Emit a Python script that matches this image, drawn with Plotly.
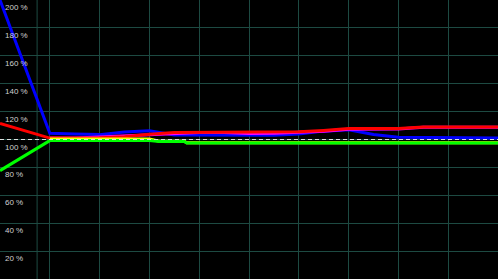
import plotly.graph_objects as go

# ---- data (x in grid units, values in %) ----
x_main = [0, 1, 1.5, 2, 2.5, 3, 3.5, 4, 4.5, 5, 5.5, 6, 6.5, 7, 7.5, 8, 8.5, 9, 9.5, 10]
blue = [200, 104.5, 104, 103.5, 105.3, 106.3, 103.2, 103.2, 103.2, 103, 103, 104, 106, 107, 103.6, 101.7, 101.4, 101.4, 101, 101]
red = [111.5, 101, 101, 101.2, 102, 103.8, 105, 105.2, 105.2, 105.3, 105.3, 105.5, 106.5, 107.8, 107.8, 107.8, 109, 109, 109, 109]
magenta = [None, 101, 101, 101.8, 102.5, 103.2, 104, 105, 105, 104.3, 104.4, 105, 106, 107.3, 107.6, 107.6, 108.8, 108.8, 108.8, 108.8]
x_green = [0, 1, 2, 3, 3.2, 3.7, 3.75, 4, 5, 6, 7, 8, 9, 10]
green = [77.7, 99.2, 99.2, 99.2, 98.6, 98.6, 97.5, 97.5, 97.5, 97.5, 97.5, 97.5, 97.5, 97.5]
x_yellow = [1, 2, 3, 3.2, 3.7, 3.75, 10]
yellow = [100.4, 100.4, 100.4, 98.8, 98.7, 97.6, 97.6]
ref_x = [0, 10]
ref_y = [100, 100]
y_ticks = [200, 180, 160, 140, 120, 100, 80, 60, 40, 20]
y_labels = ["200 %", "180 %", "160 %", "140 %", "120 %", "100 %", "80 %", "60 %", "40 %", "20 %"]

fig = go.Figure()
fig.add_trace(go.Scatter(x=x_main, y=blue, mode="lines", line=dict(color="#0000ff", width=3)))
fig.add_trace(go.Scatter(x=x_main, y=magenta, mode="lines", line=dict(color="#ff00ff", width=3)))
fig.add_trace(go.Scatter(x=x_main, y=red, mode="lines", line=dict(color="#ff0000", width=3)))
fig.add_trace(go.Scatter(x=x_yellow, y=yellow, mode="lines", line=dict(color="#ffff00", width=3)))
fig.add_trace(go.Scatter(x=x_green, y=green, mode="lines", line=dict(color="#00ff00", width=3)))
fig.add_trace(go.Scatter(x=ref_x, y=ref_y, mode="lines", line=dict(color="#e0e0e0", width=1, dash="4px,3px")))

grid_color = "#1d4a42"
fig.add_vline(x=0.745, line=dict(color=grid_color, width=1), layer="below")

for v, t in zip(y_ticks, y_labels):
    fig.add_annotation(x=0, xref="paper", y=v, yref="y", text=t, showarrow=False,
                       xanchor="left", yanchor="top", xshift=3, yshift=-1,
                       font=dict(family="Liberation Sans", size=8, color="#d0d0d0"))

fig.update_layout(
    width=498, height=279, margin=dict(l=0, r=0, t=0, b=0),
    paper_bgcolor="black", plot_bgcolor="black", showlegend=False,
    xaxis=dict(range=[0, 10], tickvals=[1, 2, 3, 4, 5, 6, 7, 8, 9, 10], showticklabels=False,
               gridcolor=grid_color, gridwidth=1, zeroline=False, showline=False, fixedrange=True),
    yaxis=dict(range=[0, 200], tickvals=[0, 20, 40, 60, 80, 100, 120, 140, 160, 180, 200], showticklabels=False,
               gridcolor=grid_color, gridwidth=1, zeroline=False, showline=False, fixedrange=True),
)

fig.write_html("out.html", config={"displayModeBar": False})
